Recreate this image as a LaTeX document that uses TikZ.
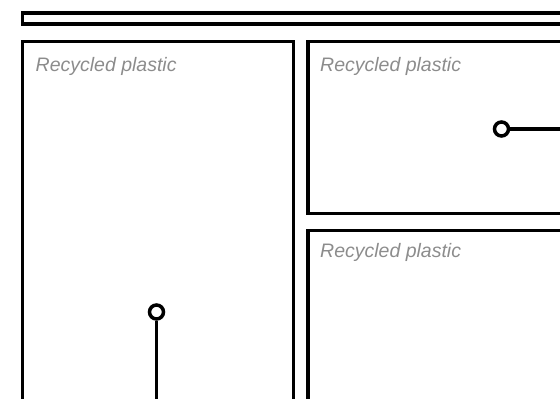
\documentclass[tikz,border=0pt]{standalone}
\usepackage{fontspec}
\setmainfont{Liberation Sans}
\usetikzlibrary{positioning}
\definecolor{labelgray}{RGB}{140, 140, 140}

\begin{document}
\begin{tikzpicture}[
  x=1pt, y=-1pt,
  panel/.style={draw=black, line width=3.5pt, rectangle, inner sep=0pt},
  plabel/.style={anchor=base west, inner sep=0pt, text=labelgray, font=\fontsize{19.5}{22}\selectfont\itshape},
  pin/.style={circle, draw=black, line width=3.5pt, fill=white, minimum size=14pt, inner sep=0pt},
  wire/.style={draw=black, line width=3.5pt}
]
  \useasboundingbox (0,0) rectangle (560,399);
  \clip (0,0) rectangle (560,399);

  % frames
  \node[panel, minimum width=570pt, minimum height=11pt, anchor=north west] (topbar) at (20.5,11) {};
  \node[panel, minimum width=271pt, minimum height=390pt, anchor=north west] (leftpanel) at (20.5,39.5) {};
  \node[panel, minimum width=280pt, minimum height=172pt, anchor=north west] (trpanel) at (306,39.5) {};
  \node[panel, minimum width=280pt, minimum height=200pt, anchor=north west] (brpanel) at (306,228.5) {};

  % labels
  \node[plabel] (leftlabel) at (35.5,71.5) {Recycled plastic};
  \node[plabel] (trlabel) at (320,71.5) {Recycled plastic};
  \node[plabel] (brlabel) at (320,257.5) {Recycled plastic};

  % pins
  \coordinate (trend) at (580,129);
  \coordinate (leftend) at (156.5,420);
  \node[pin] (trpin) at (501.5,129) {};
  \node[pin] (leftpin) at (156.5,312) {};
  \draw[wire] (trpin) -- (trend);
  \draw[wire] (leftpin) -- (leftend);
\end{tikzpicture}
\end{document}
